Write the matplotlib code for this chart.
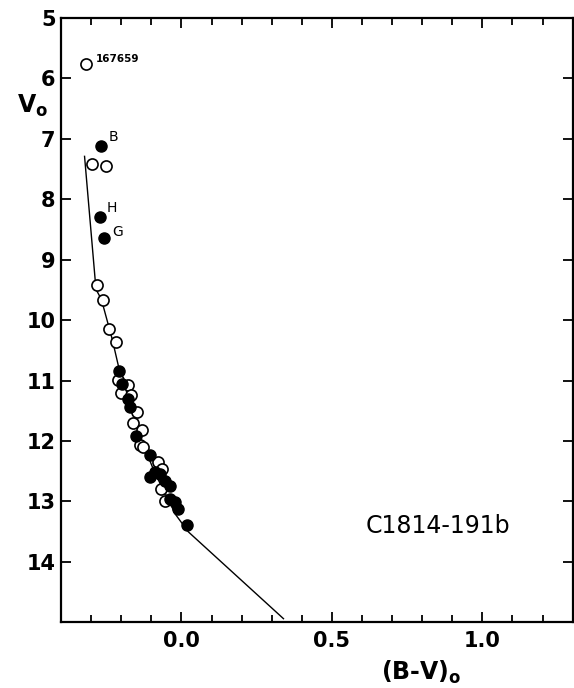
import numpy as np
import matplotlib
matplotlib.use('Agg')
import matplotlib.pyplot as plt
from matplotlib.ticker import MultipleLocator, FixedLocator

# open circles: (B-V)_o, V_o
open_bv = [-0.316, -0.297, -0.250, -0.281, -0.261, -0.241, -0.219, -0.212, -0.178,
           -0.201, -0.167, -0.148, -0.161, -0.130, -0.137, -0.129, -0.079, -0.065,
           -0.067, -0.054]
open_v = [5.765, 7.411, 7.444, 9.420, 9.668, 10.152, 10.362, 10.989, 11.077,
          11.214, 11.242, 11.527, 11.704, 11.820, 12.067, 12.105, 12.353, 12.464,
          12.794, 12.987]

# filled circles
fill_bv = [-0.267, -0.270, -0.259, -0.209, -0.198, -0.179, -0.170, -0.150, -0.106,
           -0.104, -0.087, -0.070, -0.054, -0.037, -0.037, -0.021, -0.010, 0.020]
fill_v = [7.125, 8.291, 8.649, 10.840, 11.060, 11.308, 11.440, 11.914, 12.228,
          12.601, 12.518, 12.546, 12.657, 12.739, 12.959, 13.014, 13.124, 13.388]

# ZAMS curve
zams_bv = [-0.322, -0.284, -0.266, -0.230, -0.207, -0.173, -0.134, -0.087, -0.044,
           -0.021, 0.023, 0.339]
zams_v = [7.290, 9.490, 9.657, 10.317, 10.812, 11.308, 11.968, 12.547, 12.959,
          13.207, 13.504, 14.940]

star_labels = ['167659', 'B', 'H', 'G']
label_bv = [-0.286, -0.243, -0.247, -0.231]
label_v = [5.68, 6.965, 8.15, 8.54]

fig = plt.figure(figsize=(5.74, 6.88), dpi=100)
ax = fig.add_axes([0.1064, 0.0955, 0.8913, 0.8784])

ax.plot(zams_bv, zams_v, color='black', lw=1.0, zorder=1)
ax.plot(open_bv, open_v, 'o', ms=8, mfc='white', mec='black', mew=1.2, ls='none', zorder=2)
ax.plot(fill_bv, fill_v, 'o', ms=8, mfc='black', mec='black', ls='none', zorder=3)

for s, x, y in zip(star_labels, label_bv, label_v):
    if len(s) > 1:
        ax.text(x, y, s, fontsize=7.5, fontweight='bold', ha='left', va='center')
    else:
        ax.text(x, y, s, fontsize=10, ha='left', va='center')

ax.set_xlim(-0.4, 1.3)
ax.set_ylim(15, 5)

ax.xaxis.set_major_locator(FixedLocator([0.0, 0.5, 1.0]))
ax.xaxis.set_minor_locator(MultipleLocator(0.1))
ax.set_xticklabels(['0.0', '0.5', '1.0'])
ax.set_yticks(range(5, 15))

ax.tick_params(which='both', direction='in', top=True, right=True, width=1.3)
ax.tick_params(which='major', length=7, labelsize=15)
ax.tick_params(which='minor', length=5)
ax.tick_params(axis='x', which='major', pad=6)
ax.tick_params(axis='y', which='major', pad=4)
for lab in ax.get_xticklabels() + ax.get_yticklabels():
    lab.set_fontweight('bold')
for sp in ax.spines.values():
    sp.set_linewidth(1.6)

ax.text(-0.087, 0.843, r'V$_{\mathbf{o}}$', transform=ax.transAxes, fontsize=17,
        fontweight='bold', ha='left', va='baseline')
ax.text(0.625, -0.0955, r'(B-V)$_{\mathbf{o}}$', transform=ax.transAxes, fontsize=17,
        fontweight='bold', ha='left', va='baseline')
ax.text(0.596, 0.148, 'C1814-191b', transform=ax.transAxes, fontsize=17,
        ha='left', va='baseline')

fig.savefig('out.png', dpi=100)
